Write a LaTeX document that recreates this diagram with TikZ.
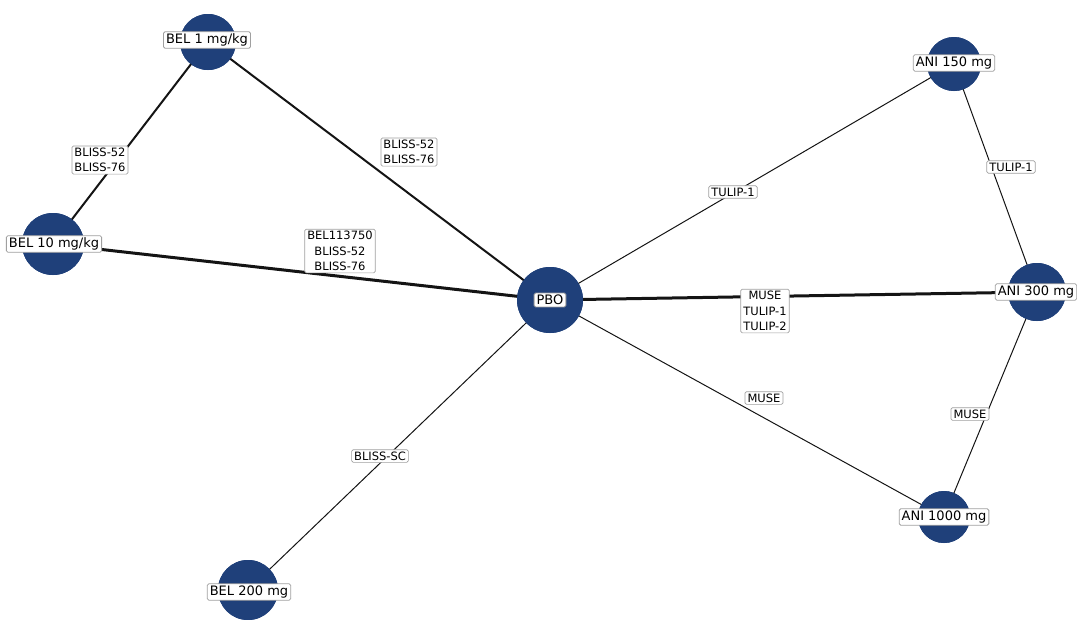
\documentclass[tikz,border=0pt]{standalone}
\usepackage{fontspec}
\setmainfont{DejaVu Sans}
\definecolor{vfill}{RGB}{31,64,122}
\definecolor{boxline}{RGB}{160,160,160}
\definecolor{edgecol}{RGB}{20,20,20}
\tikzset{
  vertex/.style={circle, fill=vfill, draw=none, inner sep=0pt, minimum size=#1},
  vlabel/.style={fill=white, draw=boxline, line width=0.8pt, rounded corners=1.5pt,
    inner xsep=2.5pt, inner ysep=2pt, font=\fontsize{13}{15}\selectfont},
  elabel/.style={fill=white, draw=boxline, line width=0.7pt, rounded corners=1.5pt,
    inner xsep=2.5pt, inner ysep=2pt, align=center, font=\fontsize{11.5}{15.5}\selectfont},
  thinedge/.style={draw=edgecol, line width=1pt},
  midedge/.style={draw=edgecol, line width=2pt},
  thickedge/.style={draw=edgecol, line width=3pt},
}
\begin{document}
\begin{tikzpicture}[x=1pt, y=-1pt]
\useasboundingbox (0,0) rectangle (1077,619);

% treatment nodes
\node[vertex=56pt] (bel1)    at (208,42)  {};
\node[vertex=62pt] (bel10)   at (53,244)  {};
\node[vertex=66pt] (pbo)     at (550,300) {};
\node[vertex=54pt] (ani150)  at (954,64)  {};
\node[vertex=58pt] (ani300)  at (1037,292){};
\node[vertex=52pt] (ani1000) at (944,517) {};
\node[vertex=60pt] (bel200)  at (248,590) {};

% comparisons, line width by number of trials
\draw[midedge]   (bel1.center)   -- (bel10.center);
\draw[midedge]   (bel1.center)   -- (pbo.center);
\draw[thickedge] (bel10.center)  -- (pbo.center);
\draw[thinedge]  (pbo.center)    -- (ani150.center);
\draw[thinedge]  (ani150.center) -- (ani300.center);
\draw[thickedge] (pbo.center)    -- (ani300.center);
\draw[thinedge]  (pbo.center)    -- (ani1000.center);
\draw[thinedge]  (ani300.center) -- (ani1000.center);
\draw[thinedge]  (pbo.center)    -- (bel200.center);

% redraw circles above the connectors
\foreach \n/\d in {bel1/56, bel10/62, pbo/66, ani150/54, ani300/58, ani1000/52, bel200/60}
  \fill[vfill] (\n.center) circle (\d/2);

% node labels
\node[vlabel] at (207,40)  {BEL 1 mg/kg};
\node[vlabel] at (54,244)  {BEL 10 mg/kg};
\node[vlabel] at (550,300) {PBO};
\node[vlabel] at (954,63)  {ANI 150 mg};
\node[vlabel] at (1036,292){ANI 300 mg};
\node[vlabel] at (944,517) {ANI 1000 mg};
\node[vlabel] at (249,592) {BEL 200 mg};

% trial labels
\node[elabel] at (100,160) {BLISS-52\\BLISS-76};
\node[elabel] at (409,152) {BLISS-52\\BLISS-76};
\node[elabel] at (340,251) {BEL113750\\BLISS-52\\BLISS-76};
\node[elabel] at (733,192) {TULIP-1};
\node[elabel] at (1011,167){TULIP-1};
\node[elabel] at (765,311) {MUSE\\TULIP-1\\TULIP-2};
\node[elabel] at (764,398) {MUSE};
\node[elabel] at (970,414) {MUSE};
\node[elabel] at (380,456) {BLISS-SC};
\end{tikzpicture}
\end{document}
